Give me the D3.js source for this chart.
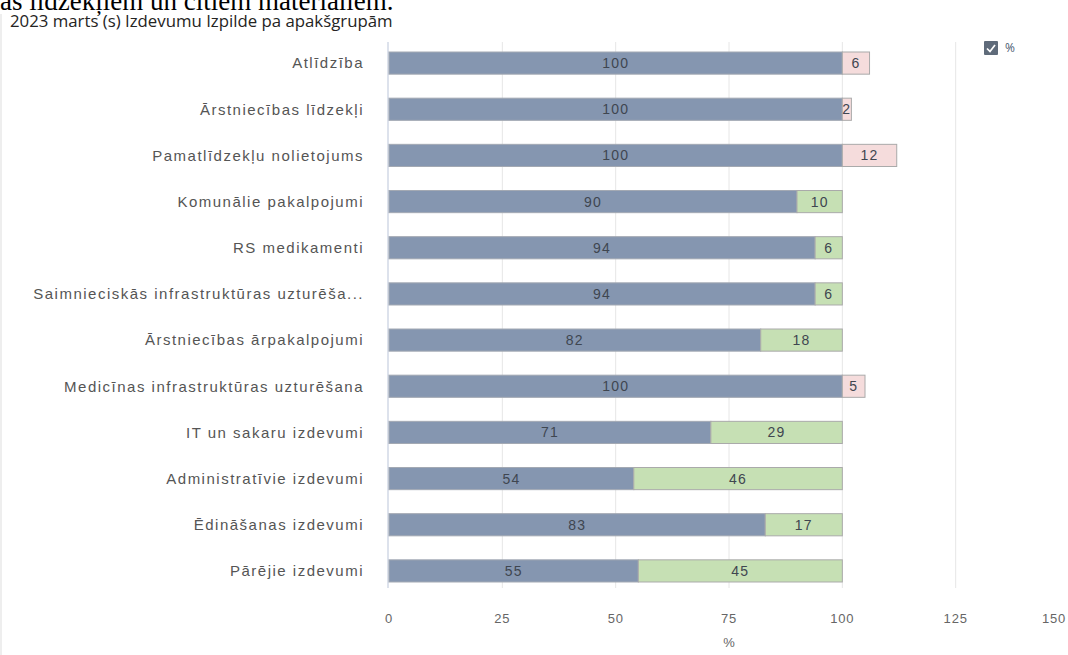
<!DOCTYPE html>
<html>
<head>
<meta charset="utf-8">
<script src="https://cdn.jsdelivr.net/npm/d3@7"></script>
<style>
  body { margin: 0; background: #fff; overflow: hidden; }
  svg { display: block; }
</style>
</head>
<body>
<div id="chart"></div>
<script>
// Categories and values (percent)
const categories = [
  "Atlīdzība",
  "Ārstniecības līdzekļi",
  "Pamatlīdzekļu nolietojums",
  "Komunālie pakalpojumi",
  "RS medikamenti",
  "Saimnieciskās infrastruktūras uzturēša...",
  "Ārstniecības ārpakalpojumi",
  "Medicīnas infrastruktūras uzturēšana",
  "IT un sakaru izdevumi",
  "Administratīvie izdevumi",
  "Ēdināšanas izdevumi",
  "Pārējie izdevumi"
];
const executed = [100, 100, 100, 90, 94, 94, 82, 100, 71, 54, 83, 55];
const remaining = [0, 0, 0, 10, 6, 6, 18, 0, 29, 46, 17, 45];
const overrun = [6, 2, 12, 0, 0, 0, 0, 5, 0, 0, 0, 0];
const xTicks = [0, 25, 50, 75, 100, 125, 150];

const width = 1068, height = 655;
const svg = d3.select("#chart").append("svg")
  .attr("width", width)
  .attr("height", height);

// Cut-off page text above the visual
svg.append("text")
  .attr("x", 0)
  .attr("y", 10)
  .style("font-family", "'Liberation Serif', 'Times New Roman', serif")
  .style("font-size", "27px")
  .style("fill", "#000")
  .text("as līdzekļiem un citiem materiāliem.");

// faint left border
svg.append("rect")
  .attr("x", 0).attr("y", 14).attr("width", 2).attr("height", height)
  .attr("fill", "#eeeeee");

// Title
svg.append("text")
  .attr("x", 10)
  .attr("y", 27)
  .style("font-family", "'Open Sans', sans-serif")
  .style("font-size", "16.8px")
  .style("fill", "#252423")
  .text("2023 marts (s) Izdevumu Izpilde pa apakšgrupām");

const x = d3.scaleLinear().domain([0, 150]).range([389, 1069]);
const y = d3.scaleBand().domain(categories).range([40, 594]).paddingInner(0.52).paddingOuter(0.26);

// Grid lines
svg.append("g")
  .selectAll("line")
  .data(xTicks.filter(d => d > 0 && d < 150))
  .enter()
  .append("line")
  .attr("x1", d => x(d)).attr("x2", d => x(d))
  .attr("y1", 42).attr("y2", 588)
  .attr("stroke", "#e6e6e6")
  .attr("stroke-width", 1);

svg.append("line")
  .attr("x1", x(0) - 1).attr("x2", x(0) - 1)
  .attr("y1", 42).attr("y2", 588)
  .attr("stroke", "#dde2ec")
  .attr("stroke-width", 2);

// X axis tick labels
svg.append("g")
  .selectAll("text")
  .data(xTicks)
  .enter()
  .append("text")
  .attr("x", d => d === 150 ? width - 2 : x(d))
  .attr("y", 623)
  .attr("text-anchor", d => d === 150 ? "end" : "middle")
  .style("font-family", "'Liberation Sans', Arial, sans-serif")
  .style("font-size", "13px")
  .style("letter-spacing", "0.8px")
  .style("fill", "#666")
  .text(d => d);

svg.append("text")
  .attr("x", x(75))
  .attr("y", 647)
  .attr("text-anchor", "middle")
  .style("font-family", "'Liberation Sans', Arial, sans-serif")
  .style("font-size", "13px")
  .style("fill", "#666")
  .text("%");

// Category labels
svg.append("g")
  .selectAll("text")
  .data(categories)
  .enter()
  .append("text")
  .attr("x", 364)
  .attr("y", d => y(d) + y.bandwidth() / 2)
  .attr("dy", "0.36em")
  .attr("text-anchor", "end")
  .style("font-family", "'Liberation Sans', Arial, sans-serif")
  .style("font-size", "15px")
  .style("letter-spacing", "1.5px")
  .style("fill", "#555")
  .text(d => d);

// Row data
const rows = categories.map((c, i) => ({
  cat: c,
  exec: executed[i],
  rest: remaining[i],
  over: overrun[i]
}));

const bars = svg.append("g");

// executed segment
bars.selectAll(".exec")
  .data(rows)
  .enter()
  .append("rect")
  .attr("class", "exec")
  .attr("x", x(0))
  .attr("y", d => y(d.cat))
  .attr("width", d => x(d.exec) - x(0))
  .attr("height", y.bandwidth())
  .attr("fill", "#8596b0")
  .attr("stroke", "#a3a9b3")
  .attr("stroke-width", 1);

// remaining segment (green)
bars.selectAll(".rest")
  .data(rows.filter(d => d.rest > 0))
  .enter()
  .append("rect")
  .attr("class", "rest")
  .attr("x", d => x(d.exec))
  .attr("y", d => y(d.cat))
  .attr("width", d => x(d.exec + d.rest) - x(d.exec))
  .attr("height", y.bandwidth())
  .attr("fill", "#c6e0b4")
  .attr("stroke", "#aaaaaa")
  .attr("stroke-width", 1);

// overrun segment (pink)
bars.selectAll(".over")
  .data(rows.filter(d => d.over > 0))
  .enter()
  .append("rect")
  .attr("class", "over")
  .attr("x", d => x(d.exec))
  .attr("y", d => y(d.cat))
  .attr("width", d => x(d.exec + d.over) - x(d.exec))
  .attr("height", y.bandwidth())
  .attr("fill", "#f5dcdc")
  .attr("stroke", "#aaaaaa")
  .attr("stroke-width", 1);

// labels
const labelStyle = sel => sel
  .attr("dy", "0.36em")
  .attr("text-anchor", "middle")
  .style("font-family", "'Liberation Sans', Arial, sans-serif")
  .style("font-size", "14px")
  .style("letter-spacing", "1.2px")
  .style("fill", "#3f4650");

bars.selectAll(".lexec")
  .data(rows)
  .enter()
  .append("text")
  .attr("x", d => (x(0) + x(d.exec)) / 2)
  .attr("y", d => y(d.cat) + y.bandwidth() / 2)
  .call(labelStyle)
  .text(d => d.exec);

bars.selectAll(".lrest")
  .data(rows.filter(d => d.rest > 0))
  .enter()
  .append("text")
  .attr("x", d => (x(d.exec) + x(d.exec + d.rest)) / 2)
  .attr("y", d => y(d.cat) + y.bandwidth() / 2)
  .call(labelStyle)
  .text(d => d.rest);

bars.selectAll(".lover")
  .data(rows.filter(d => d.over > 0))
  .enter()
  .append("text")
  .attr("x", d => (x(d.exec) + x(d.exec + d.over)) / 2)
  .attr("y", d => y(d.cat) + y.bandwidth() / 2)
  .call(labelStyle)
  .text(d => d.over);

// Legend
const legend = svg.append("g").attr("transform", "translate(984,41)");
legend.append("rect")
  .attr("width", 14).attr("height", 14).attr("rx", 1)
  .attr("fill", "#5f6b7a");
legend.append("path")
  .attr("d", "M3,7.5 L6,10.5 L11,4")
  .attr("fill", "none")
  .attr("stroke", "#fff")
  .attr("stroke-width", 1.7);
legend.append("text")
  .attr("x", 21).attr("y", 11)
  .style("font-family", "'Open Sans', sans-serif")
  .style("font-size", "12px")
  .style("fill", "#4a5a70")
  .text("%");
</script>
</body>
</html>
